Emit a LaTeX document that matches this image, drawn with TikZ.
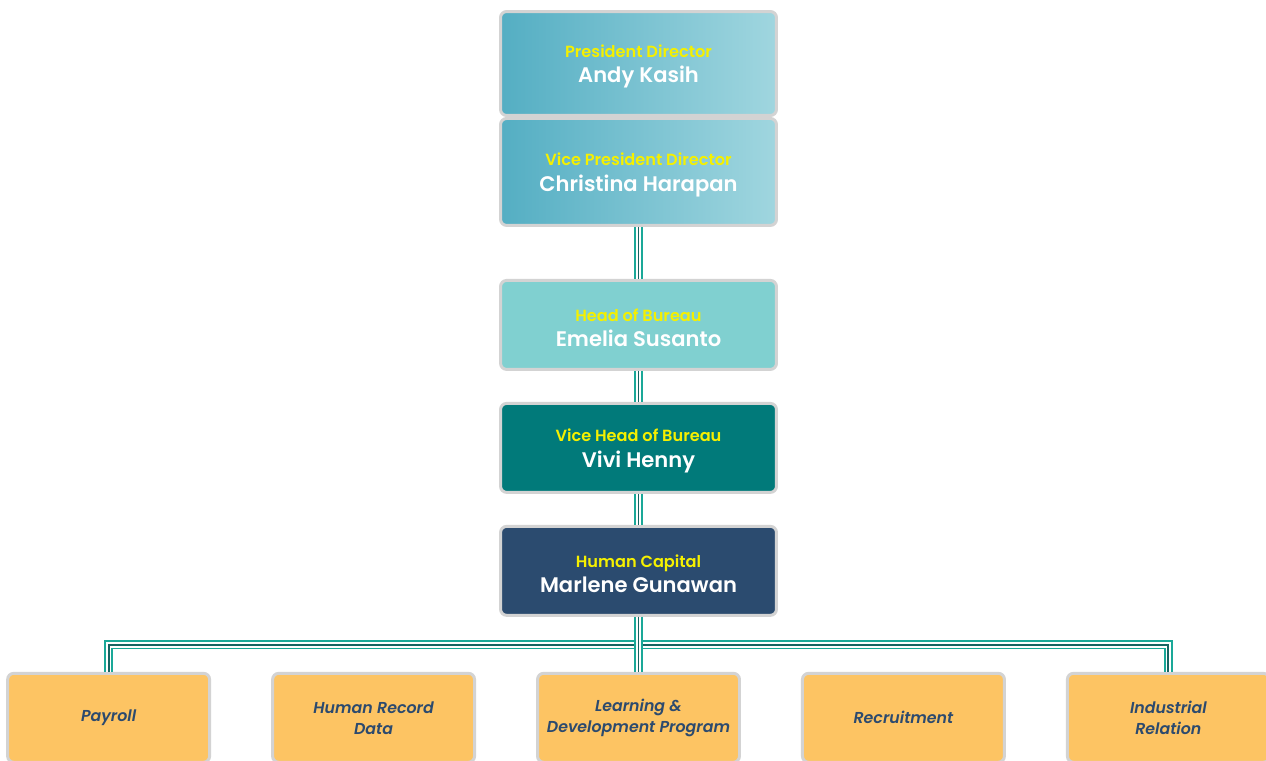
\documentclass[tikz,border=0pt]{standalone}
\usepackage{fontspec}
\setmainfont{Poppins}[UprightFont={* Medium}, ItalicFont={* Medium Italic}, BoldFont={* SemiBold}, BoldItalicFont={* SemiBold Italic}]
\usetikzlibrary{positioning}
\definecolor{gradL}{RGB}{84,174,195}
\definecolor{gradR}{RGB}{160,214,223}
\definecolor{headFill}{RGB}{128,208,208}
\definecolor{vheadFill}{RGB}{1,122,122}
\definecolor{hcFill}{RGB}{43,75,111}
\definecolor{unitFill}{RGB}{253,196,99}
\definecolor{unitText}{RGB}{44,74,110}
\definecolor{boxEdge}{RGB}{211,211,211}
\definecolor{roleYellow}{RGB}{245,240,0}
\definecolor{linkOuter}{RGB}{26,168,152}
\definecolor{linkMid}{RGB}{22,100,98}
\newcommand{\rolefont}{\fontsize{9.2}{11}\selectfont\bfseries\color{roleYellow}}
\newcommand{\namefont}{\fontsize{12}{14}\selectfont\bfseries\color{white}}
\newcommand{\unitfont}{\fontsize{9}{12}\selectfont\bfseries\itshape}
\newcommand{\role}[2]{\rule{0pt}{10.5pt}{\rolefont #1}\\[2.6pt]{\namefont #2}}

\begin{document}
\begin{tikzpicture}[
    x=0.02cm, y=-0.02cm,
    node distance=0.62cm,
    box/.style={rectangle, draw=boxEdge, line width=1.7pt, rounded corners=3.5pt, minimum width=5.52cm, minimum height=1.78cm, align=center, inner sep=0pt},
    topbox/.style={box, left color=gradL, right color=gradR},
    unit/.style={rectangle, draw=boxEdge, line width=1.7pt, rounded corners=3.5pt, fill=unitFill, minimum width=4.04cm, minimum height=1.78cm, align=center, font=\unitfont, text=unitText},
    link/.style={draw=linkOuter, line width=5pt, postaction={draw=white, line width=3.2pt}, postaction={draw=linkMid, line width=1.1pt}}
]
\useasboundingbox (0,0) rectangle (1266,760);
\clip (0,0) rectangle (1266,760);

% --- Top: directors ---
\node[topbox, minimum height=2.08cm] (pres) at (638.5,63.5)
    {\role{President Director}{Andy Kasih}};
\node[topbox, minimum height=2.14cm, below=0cm of pres] (vp)
    {\role{Vice President Director}{Christina Harapan}};

% --- Bureau column ---
\node[box, fill=headFill, below=1.04cm of vp] (head)
    {\role{Head of Bureau}{Emelia Susanto}};
\node[box, fill=vheadFill, below=of head] (vhead)
    {\role{Vice Head of Bureau}{Vivi Henny}};
\node[box, fill=hcFill, below=of vhead] (hc)
    {\role{Human Capital}{Marlene Gunawan}};

% --- Bottom: units ---
\node[unit, below=1.1cm of hc] (ld) {Learning \&\\Development Program};
\node[unit, left=1.2cm of ld] (hrd) {Human Record\\Data};
\node[unit, left=1.2cm of hrd] (pay) {Payroll};
\node[unit, right=1.2cm of ld] (recr) {Recruitment};
\node[unit, right=1.2cm of recr] (ind) {Industrial\\Relation};

% === LINKS ===
\draw[link] (vp) -- (head);
\draw[link] (head) -- (vhead);
\draw[link] (vhead) -- (hc);

% only the outer units and the middle one are joined
\coordinate[below=0.56cm of hc] (bar);
\foreach \u in {pay, ind, ld}
    \draw[link] (hc) -- (bar) -| (\u);

\end{tikzpicture}
\end{document}
